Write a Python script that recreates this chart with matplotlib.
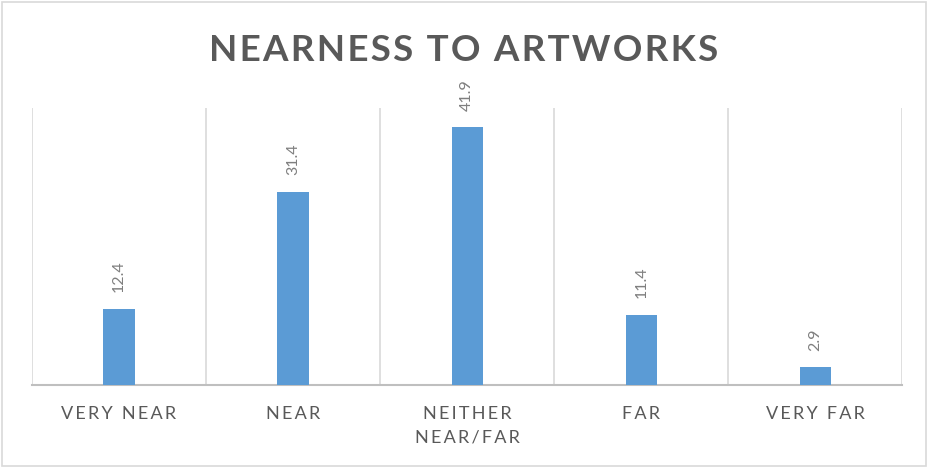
import matplotlib.pyplot as plt
from matplotlib.patches import Rectangle

categories = ["VERY NEAR", "NEAR", "NEITHER\nNEAR/FAR", "FAR", "VERY FAR"]
values = [12.4, 31.4, 41.9, 11.4, 2.9]

BAR_COLOR = "#5B9BD5"
GRID_COLOR = "#D9D9D9"
TEXT_COLOR = "#595959"
FONTS = ["Lato", "DejaVu Sans"]


def spaced(text, gap="\u2009"):
    # widen the letters a little, the way the labels are tracked
    return "\n".join(gap.join(line) for line in text.split("\n"))


fig = plt.figure(figsize=(9.28, 4.68), dpi=100)
ax = fig.add_axes([0.0345, 0.177, 0.938, 0.592])

x = range(len(categories))
ax.bar(x, values, width=0.18, color=BAR_COLOR, zorder=3)

for xi, v in zip(x, values):
    ax.annotate(f"{v}", (xi, v), xytext=(0, 12), textcoords="offset points",
                rotation=90, ha="center", va="bottom", fontsize=11.5,
                color="#7F7F7F", family=FONTS)

ax.set_xlim(-0.5, len(categories) - 0.5)
ax.set_ylim(0, 45)
for b in [i - 0.5 for i in range(len(categories) + 1)]:
    ax.axvline(b, color=GRID_COLOR, lw=1.2, zorder=1)

ax.set_yticks([])
ax.set_xticks(list(x))
ax.set_xticklabels([spaced(c) for c in categories], fontsize=13,
                   color=TEXT_COLOR, family=FONTS, linespacing=1.55)
ax.tick_params(axis="x", length=0, pad=15)
for side in ["top", "left", "right"]:
    ax.spines[side].set_visible(False)
ax.spines["bottom"].set_color("#BFBFBF")
ax.spines["bottom"].set_linewidth(1.5)

fig.text(0.5, 0.892, spaced("NEARNESS TO ARTWORKS", "\u200a"), ha="center",
         va="center", fontsize=26.5, fontweight="bold", color=TEXT_COLOR,
         family=FONTS)

fig.patches.append(Rectangle((0.002, 0.004), 0.996, 0.992, transform=fig.transFigure,
                             fill=False, edgecolor=GRID_COLOR, lw=1.2))

fig.savefig("out.png", dpi=100)
